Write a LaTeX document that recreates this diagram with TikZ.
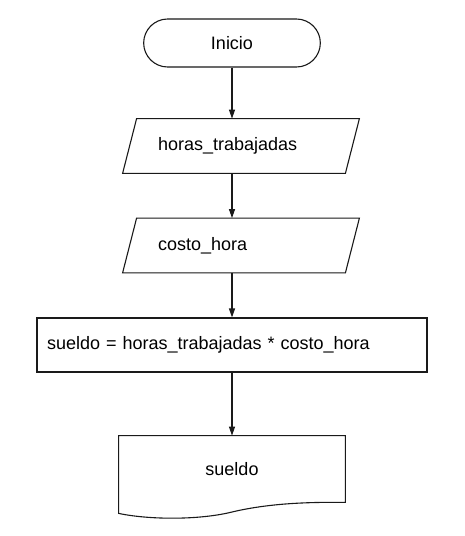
\documentclass[tikz,border=0pt]{standalone}
\usepackage{fontspec}
\setmainfont{Liberation Sans}
\usetikzlibrary{arrows.meta,shapes.misc,calc}
\definecolor{cLinea}{HTML}{1A1A1A}

\begin{document}
\begin{tikzpicture}[x=0.5pt,y=-0.5pt,font=\fontsize{9}{11}\selectfont,
  terminal/.style={rounded rectangle,draw=cLinea,line width=0.55pt,minimum width=95pt,minimum height=24pt},
  entrada/.style={rectangle,minimum width=111pt,minimum height=27pt,inner sep=0pt,text width=83pt,align=left},
  proceso/.style={rectangle,draw=cLinea,line width=0.55pt,minimum width=195pt,minimum height=27pt,inner sep=0pt,text width=185pt,align=left},
  borde/.style={cLinea,line width=0.55pt},
  flecha/.style={cLinea,line width=0.55pt,-{Triangle[length=4.5pt,width=3pt]}}]
  \fill[white] (0,0) rectangle (465,536);
  \useasboundingbox (0,0) rectangle (465,536);
  \node[terminal] (ini) at (232,43) {Inicio};
  \node[entrada] (hor) at (241,146) {horas\_trabajadas};
  \node[entrada] (cos) at (241,245.5) {costo\_hora};
  \node[proceso] (sue) at (232,345) {sueldo = horas\_trabajadas * costo\_hora};
  \node[minimum width=113pt,minimum height=33pt,inner sep=0pt] (sal) at (232,469) {sueldo};
  \foreach \n in {hor,cos}{
    \draw[borde] ($(\n.south west)+(-7,0)$) -- ($(\n.north west)+(7,0)$) -- ($(\n.north east)+(7,0)$)
      -- ($(\n.south east)+(-7,0)$) -- cycle;}
  \draw[borde] (sal.south east) -- (sal.north east) -- (sal.north west) -- ($(sal.south west)+(0,11)$)
    .. controls (150,520) and (200,520) .. (232,512) .. controls (270,503) and (310,502) .. (sal.south east) -- cycle;
  \foreach \a/\b in {ini/hor,hor/cos,cos/sue,sue/sal}{
    \draw[flecha] (ini.south |- \a.south) -- (ini.south |- \b.north);}
\end{tikzpicture}
\end{document}
